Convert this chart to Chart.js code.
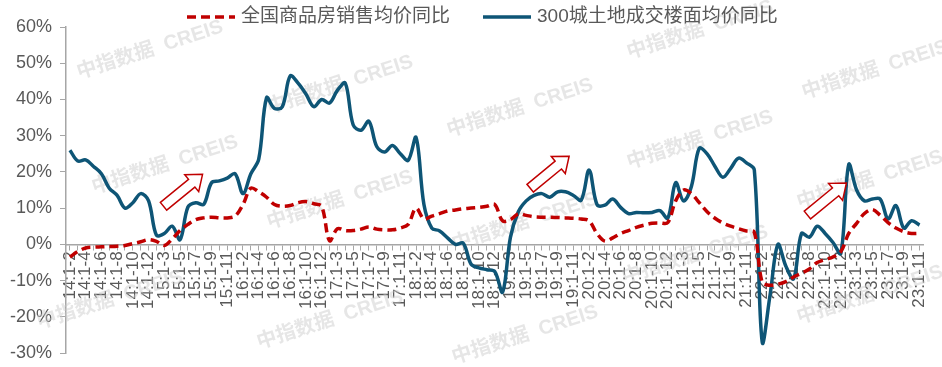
<!DOCTYPE html>
<html>
<head>
<meta charset="utf-8">
<script src="https://cdn.jsdelivr.net/npm/chart.js@4.4.0/dist/chart.umd.min.js"></script>
<style>
    html, body { margin: 0; padding: 0; background: #fff; }
    #wrap { width: 942px; height: 367px; }
</style>
</head>
<body>
<div id="wrap"><canvas id="priceChart"></canvas></div>
<script>
// categories: year prefix + cumulative month range
const years = ['14', '15', '16', '17', '18', '19', '20', '21', '22', '23'];
const months = ['1-2', '1-3', '1-4', '1-5', '1-6', '1-7', '1-8', '1-9', '1-10', '1-11', '1-12'];

const labels = [];
years.forEach(y => {
    months.forEach(m => {
        if (y === '23' && m === '1-12') return; // data stops at 23:1-11
        labels.push(y + ':' + m);
    });
});

// 全国商品房销售均价同比 (%)
const salesPrice = [
    -3.5, -2, -1, -0.8, -0.7, -0.6, -0.5, -0.3, 0.2, 0.7, 1.3,
    0.8, -0.3, 1.5, 3.8, 5.5, 6.8, 7.3, 7.5, 7.3, 7.3, 7.8,
    11, 15.5, 14.5, 13, 11, 10.5, 10.7, 11.5, 11.8, 11.2, 10.5,
    1, 4.3, 3.8, 3.8, 4.2, 4.8, 4.2, 4, 4, 4.5, 5.5,
    10, 7, 7.8, 8.5, 9.2, 9.5, 9.8, 10, 10.2, 10.5, 11,
    6.5, 6.8, 8.4, 8, 7.6, 7.5, 7.5, 7.4, 7.3, 7.2, 7,
    6.5, 3, 0.9, 1.8, 3, 3.8, 4.7, 5.3, 5.8, 5.9, 6,
    12, 15, 14, 11.5, 9, 7.2, 5.9, 5, 4.3, 3.7, 3.3,
    -10.5, -11.3, -11, -10.3, -9, -8, -6.8, -5, -4.2, -3.5, -2,
    3, 5.8, 8.5, 9.6, 8, 6, 4.5, 3.5, 3, 3
];

// 300城土地成交楼面均价同比 (%)
const landPrice = [
    26, 23, 23.3, 21.5, 19.5, 15.5, 13.5, 10, 11.5, 14, 12,
    2.5, 3, 5, 1.3, 10.3, 11.5, 11, 17, 17.5, 18.3, 19.5,
    14, 19.5, 23.5, 40.5, 37.5, 38, 46.5, 44.5, 41.5, 38, 40,
    39, 42.5, 44.5, 33, 31.5, 34, 27, 25.5, 27.3, 25, 23.2,
    29.5, 11, 4.5, 3.7, 1.8, 0, 0.3, -5.5, -6.5, -7, -7.5,
    -13.2, 2, 9, 12, 13.5, 14, 13, 14.5, 14.5, 13.5, 12.2,
    20.5, 11, 10.8, 12.5, 10.2, 8.5, 8.8, 8.7, 8.8, 9.3, 7.2,
    17, 12, 16, 26.5, 25, 21.5, 18.5, 21, 23.8, 22.5, 20.5,
    -27, -14, 0, -6, -9.5, 3, 2, 5, 3, 0.5, -2.5,
    22, 15, 12, 12.5, 12.5, 7, 10.7, 4.5, 6.5, 5.3
];

const yTicks = { min: -30, max: 60, step: 10 };

// arrow tails in (category index, %) space
const arrowTails = [[11.9, 10.5], [58.5, 15.5], [93.75, 8.1]];

const watermarkSpots = [
    [150, 50], [165, 165], [110, 300], [340, 85], [340, 200], [330, 320],
    [520, 108], [525, 222], [525, 335], [700, 30], [700, 140], [695, 255],
    [875, 70], [870, 180], [870, 295]
];

const FONT = "'Liberation Sans', Arial, 'Noto Sans CJK SC', sans-serif";
const textColor = '#595959';
const axisColor = '#A6A6A6';

const watermarkPlugin = {
    id: 'watermark',
    beforeDatasetsDraw(chart) {
        const c = chart.ctx;
        c.save();
        c.font = 'bold 20px ' + FONT;
        c.fillStyle = 'rgba(200, 200, 200, 0.45)';
        c.textAlign = 'center';
        c.textBaseline = 'middle';
        watermarkSpots.forEach(([x, y]) => {
            c.save();
            c.translate(x, y);
            c.rotate(-18 * Math.PI / 180);
            c.fillText('中指数据  CREIS', 0, 0);
            c.restore();
        });
        c.restore();
    }
};

const arrowPlugin = {
    id: 'arrows',
    afterDatasetsDraw(chart) {
        const c = chart.ctx;
        const xs = chart.scales.x, ys = chart.scales.y;
        const dx = 39, dy = -32;
        const len = Math.hypot(dx, dy);
        const ux = dx / len, uy = dy / len;
        const nx = -uy, ny = ux;
        const shaft = 5, head = 11, headLen = 14;
        c.save();
        c.fillStyle = '#fff';
        c.strokeStyle = '#C00000';
        c.lineWidth = 1.5;
        arrowTails.forEach(([i, v]) => {
            const tx = xs.getPixelForValue(i), ty = ys.getPixelForValue(v);
            const bx = tx + ux * (len - headLen), by = ty + uy * (len - headLen);
            c.beginPath();
            c.moveTo(tx + nx * shaft, ty + ny * shaft);
            c.lineTo(bx + nx * shaft, by + ny * shaft);
            c.lineTo(bx + nx * head, by + ny * head);
            c.lineTo(tx + dx, ty + dy);
            c.lineTo(bx - nx * head, by - ny * head);
            c.lineTo(bx - nx * shaft, by - ny * shaft);
            c.lineTo(tx - nx * shaft, ty - ny * shaft);
            c.closePath();
            c.fill();
            c.stroke();
        });
        c.restore();
    }
};

// legend drawn by hand so it can sit in the top margin like the original
const legendPlugin = {
    id: 'topLegend',
    afterDraw(chart) {
        const c = chart.ctx;
        const y = 17;
        let x = 187;
        c.save();
        c.font = '19px ' + FONT;
        c.textBaseline = 'middle';
        chart.data.datasets.forEach(ds => {
            c.strokeStyle = ds.borderColor;
            c.lineWidth = ds.borderWidth;
            c.setLineDash(ds.borderDash || []);
            c.beginPath();
            c.moveTo(x, y);
            c.lineTo(x + 48, y);
            c.stroke();
            c.setLineDash([]);
            x += 54;
            c.fillStyle = textColor;
            c.fillText(ds.label, x, y);
            x += c.measureText(ds.label).width + 33;
        });
        c.restore();
    }
};

const ctx = document.getElementById('priceChart').getContext('2d');

let chart = new Chart(ctx, {
    type: 'line',
    data: {
        labels: labels,
        datasets: [
            {
                label: '全国商品房销售均价同比',
                data: salesPrice,
                borderColor: '#C00000',
                borderWidth: 3.5,
                borderDash: [9, 5],
                pointRadius: 0,
                tension: 0.35,
                fill: false
            },
            {
                label: '300城土地成交楼面均价同比',
                data: landPrice,
                borderColor: '#0E5576',
                borderWidth: 3.5,
                pointRadius: 0,
                tension: 0.35,
                fill: false
            }
        ]
    },
    options: {
        responsive: true,
        maintainAspectRatio: false,
        animation: false,
        layout: { padding: { top: 27, right: 16, bottom: 14, left: 0 } },
        plugins: {
            tooltip: { enabled: false },
            legend: { display: false }
        },
        scales: {
            x: {
                type: 'category',
                position: { y: 0 },
                offset: true,
                afterFit: s => { s.paddingTop = 0; s.paddingBottom = 0; },
                grid: {
                    drawOnChartArea: false,
                    drawTicks: true,
                    tickLength: 5,
                    color: axisColor,
                    lineWidth: 1
                },
                border: { color: axisColor, width: 1.5 },
                ticks: {
                    autoSkip: false,
                    maxRotation: 90,
                    minRotation: 90,
                    padding: 2,
                    color: textColor,
                    font: { family: FONT, size: 17 },
                    callback: function (val, index) {
                        return index % 2 === 0 ? this.getLabelForValue(val) : '';
                    }
                }
            },
            y: {
                min: yTicks.min,
                max: yTicks.max,
                afterFit: s => { s.width = 66; s.paddingTop = 0; s.paddingBottom = 0; },
                grid: {
                    drawOnChartArea: false,
                    drawTicks: true,
                    tickLength: 6,
                    color: axisColor
                },
                border: { color: axisColor, width: 1.5 },
                ticks: {
                    stepSize: yTicks.step,
                    padding: 8,
                    color: textColor,
                    font: { family: FONT, size: 18 },
                    callback: v => v + '%'
                }
            }
        }
    },
    plugins: [watermarkPlugin, arrowPlugin, legendPlugin]
});
</script>
</body>
</html>
